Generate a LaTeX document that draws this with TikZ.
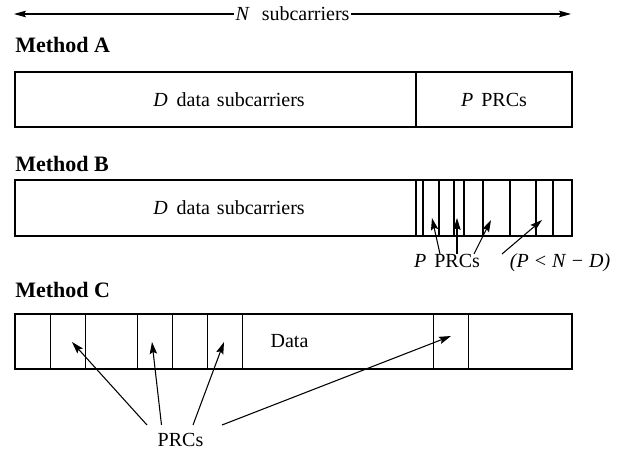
\documentclass[tikz,border=0pt]{standalone}
\usepackage{fontspec}
\setmainfont{Liberation Serif}
\usetikzlibrary{arrows.meta}
\begin{document}
\begin{tikzpicture}[x=0.75pt,y=-0.75pt,
  box/.style={draw, line width=0.8pt},
  sep/.style={line width=0.8pt},
  lbl/.style={font=\fontsize{15}{18}\selectfont, inner sep=0pt},
  mth/.style={font=\fontsize{16.5}{19}\selectfont\bfseries, inner sep=0pt, anchor=base west},
  ptr/.style={-{Stealth[length=9pt,width=5.5pt,inset=1.5pt]}, line width=0.8pt}]
\useasboundingbox (0,0) rectangle (633,452);

% top dimension arrow
\coordinate (nl) at (14,14);
\coordinate (nr) at (571,14);
\draw[{Stealth[length=9pt,width=5pt,inset=1.5pt]}-{Stealth[length=9pt,width=5pt,inset=1.5pt]}, line width=0.8pt]
  (nl) -- node[lbl, fill=white, inner xsep=1pt, inner ysep=2pt] (ntext) {\textit{N}\hspace{0.6em}subcarriers} (nr);

% Method A
\node[mth] (ma) at (15,53) {Method A};
\draw[box] (15,72) rectangle (572,127);
\draw[sep] (416,72) -- (416,127);
\node[lbl] (ad) at (229,99.5) {\textit{D}\hspace{0.45em}data\hspace{0.35em}subcarriers};
\node[lbl] (ap) at (494,99.5) {\textit{P}\hspace{0.4em}PRCs};

% Method B
\node[mth] (mb) at (15,172) {Method B};
\draw[box] (15,180) rectangle (572,236);
\foreach \x in {416,423,439,454,464,483,510,536,553}
  \draw[sep] (\x,180) -- (\x,236);
\node[lbl] (bd) at (229,208) {\textit{D}\hspace{0.45em}data\hspace{0.35em}subcarriers};
\node[lbl, anchor=base] (bp) at (447,268) {\textit{P}\hspace{0.4em}PRCs};
\node[lbl, anchor=base] (bc) at (560,268) {\textit{(P < N − D)}};
\coordinate (bt1) at (440,254); \coordinate (bh1) at (432,218);
\coordinate (bt2) at (457,254); \coordinate (bh2) at (457,218);
\coordinate (bt3) at (474,254); \coordinate (bh3) at (491,220);
\coordinate (bt4) at (502,254); \coordinate (bh4) at (542,220);
\foreach \i in {1,2,3,4} \draw[ptr] (bt\i) -- (bh\i);

% Method C
\node[mth] (mc) at (15,298) {Method C};
\draw[box] (15,314) rectangle (572,369);
\foreach \x in {50.5,85.5,137.5,172.5,207.5,242.5,433.5,468.5}
  \draw[sep] (\x,314) -- (\x,369);
\node[lbl] (cd) at (289.5,341.5) {Data};
\node[lbl, anchor=base] (cp) at (180.5,447) {PRCs};
\coordinate (ct1) at (147,425);   \coordinate (ch1) at (72,342);
\coordinate (ct2) at (161.5,425); \coordinate (ch2) at (152,342);
\coordinate (ct3) at (193,425);   \coordinate (ch3) at (224,342);
\coordinate (ct4) at (222,425);   \coordinate (ch4) at (451,336);
\foreach \i in {1,2,3,4} \draw[ptr] (ct\i) -- (ch\i);
\end{tikzpicture}
\end{document}
